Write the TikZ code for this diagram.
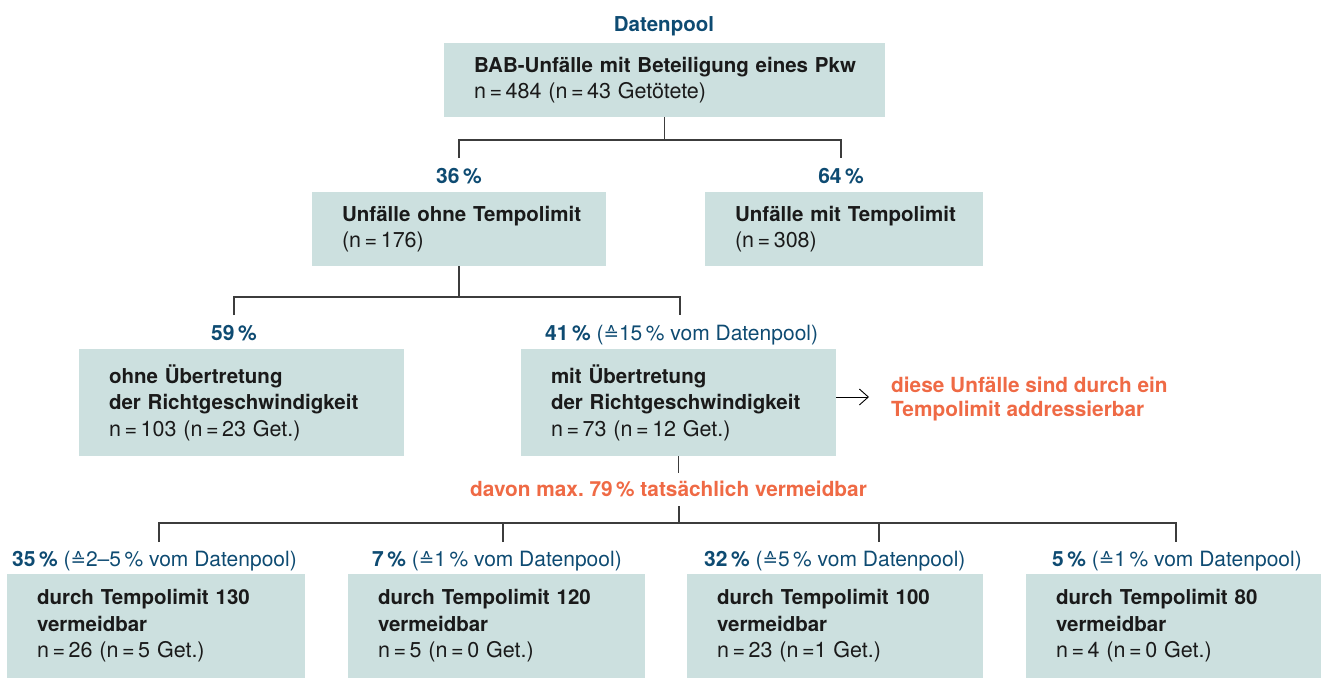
\documentclass[tikz,border=0pt]{standalone}
\usepackage{fontspec}
\setmainfont{TeX Gyre Heros}
\newfontfamily\symf{DejaVu Sans}
\usetikzlibrary{arrows.meta,calc}
\definecolor{boxc}{HTML}{CCE0DF}
\definecolor{blu}{HTML}{0E4B72}
\definecolor{orn}{HTML}{EF6A45}
\definecolor{txt}{HTML}{1A1A1A}
\definecolor{lin}{HTML}{3C3C3C}
\newcommand\fs{\fontsize{20.5}{26.5}\selectfont}
\newcommand\rg[1]{{\fontsize{21.5}{26.5}\selectfont #1}}
\newcommand\Zl[1]{\mbox{#1}}
\newcommand\eqs{\,=\,}
\newcommand\corr{{\symf\fontsize{18.5}{20}\selectfont ≙}}
\begin{document}
\begin{tikzpicture}[x=1pt,y=-1pt,
  box/.style={fill=boxc, anchor=north west, inner xsep=30pt, inner ysep=0pt, outer sep=0pt, align=left, font=\fs, text=txt},
  conn/.style={draw=lin, line width=1.1pt},
  pct/.style={font=\fontsize{21}{26}\selectfont, text=blu, inner sep=0pt},
  note/.style={font=\fontsize{20.8}{23.5}\selectfont\bfseries, text=orn, inner sep=0pt},
  arr/.style={draw=black, line width=0.9pt, -{Straight Barb[length=9pt,width=16pt]}}
]
\useasboundingbox (0,0) rectangle (1321,678);

% title
\node[pct, font=\fs\bfseries, anchor=base] (dp) at (664,31) {Datenpool};

% boxes
\node[box, minimum width=441pt, text width=381pt, minimum height=74pt] (b1) at (444,43)
  {\Zl{\textbf{BAB-Unfälle mit Beteiligung eines Pkw}}\\\Zl{\rg{n\eqs484 (n\eqs43 Getötete)}}};
\node[box, minimum width=294pt, text width=234pt, minimum height=74pt] (b2) at (312,192)
  {\Zl{\textbf{Unfälle ohne Tempolimit}}\\\Zl{\rg{(n\eqs176)}}};
\node[box, minimum width=278pt, text width=218pt, minimum height=74pt] (b3) at (705,192)
  {\Zl{\textbf{Unfälle mit Tempolimit}}\\\Zl{\rg{(n\eqs308)}}};
\node[box, minimum width=325pt, text width=265pt, minimum height=107pt] (b4) at (79,349)
  {\Zl{\textbf{ohne Übertretung}}\\\Zl{\textbf{der Richtgeschwindigkeit}}\\\Zl{\rg{n\eqs103 (n\eqs23 Get.)}}};
\node[box, minimum width=315pt, text width=255pt, minimum height=107pt] (b5) at (521,349)
  {\Zl{\textbf{mit Übertretung}}\\\Zl{\textbf{der Richtgeschwindigkeit}}\\\Zl{\rg{n\eqs73 (n\eqs12 Get.)}}};
\node[box, minimum width=298pt, text width=238pt, minimum height=104pt] (ba) at (7,574)
  {\Zl{\textbf{durch Tempolimit 130}}\\\Zl{\textbf{vermeidbar}}\\\Zl{\rg{n\eqs26 (n\eqs5 Get.)}}};
\node[box, minimum width=297pt, text width=237pt, minimum height=104pt] (bb) at (348,574)
  {\Zl{\textbf{durch Tempolimit 120}}\\\Zl{\textbf{vermeidbar}}\\\Zl{\rg{n\eqs5 (n\eqs0 Get.)}}};
\node[box, minimum width=296pt, text width=236pt, minimum height=104pt] (bc) at (687,574)
  {\Zl{\textbf{durch Tempolimit 100}}\\\Zl{\textbf{vermeidbar}}\\\Zl{\rg{n\eqs23 (n\,=1 Get.)}}};
\node[box, minimum width=295pt, text width=235pt, minimum height=104pt] (bd) at (1026,574)
  {\Zl{\textbf{durch Tempolimit 80}}\\\Zl{\textbf{vermeidbar}}\\\Zl{\rg{n\eqs4 (n\eqs0 Get.)}}};

% percentage labels
\node[pct, anchor=base] (p36) at (459,183) {\textbf{36\,\%}};
\node[pct, anchor=base] (p64) at (841,183) {\textbf{64\,\%}};
\node[pct, anchor=base] (p59) at (234,340) {\textbf{59\,\%}};
\node[pct, anchor=base west] (p41) at (545,340) {\textbf{41\,\%} (\corr15\,\% vom Datenpool)};
\node[pct, anchor=base west] (pa) at (12,566) {\textbf{35\,\%} (\corr2–5\,\% vom Datenpool)};
\node[pct, anchor=base west] (pb) at (372,566) {\textbf{7\,\%} (\corr1\,\% vom Datenpool)};
\node[pct, anchor=base west] (pc) at (704,566) {\textbf{32\,\%} (\corr5\,\% vom Datenpool)};
\node[pct, anchor=base west] (pd) at (1052,566) {\textbf{5\,\%} (\corr1\,\% vom Datenpool)};

% orange notes
\node[note, anchor=base west] (dav) at (470,496) {davon max.\ 79\,\% tatsächlich vermeidbar};
\node[note, anchor=west, align=left] (addr) at (891,399) {diese Unfälle sind durch ein\\Tempolimit addressierbar};
\draw[arr, shorten >=22pt] ([yshift=5.5pt]b5.east) -- ([yshift=5.5pt]b5.east -| addr.west);

% connectors level 1
\draw[conn] (b1.south) -- ++(0,23) coordinate (j1);
\coordinate (t36) at (459,158);
\coordinate (t64) at (841,158);
\draw[conn] (t36) |- (j1) -| (t64);

% level 2
\draw[conn] (b2.south) -- ++(0,31) coordinate (j2);
\coordinate (t59) at (234,315);
\coordinate (t41) at (680,315);
\draw[conn] (t59) |- (j2) -| (t41);

% level 3
\draw[conn] (b5.south) -- ++(0,17);
\coordinate (k3) at (679,506);
\coordinate (j3) at (679,523);
\draw[conn] (k3) -- (j3);
\coordinate (ta) at (159,542);
\coordinate (tb) at (503,542);
\coordinate (tc) at (879,542);
\coordinate (td) at (1176,542);
\draw[conn] (ta) |- (j3) -| (td);
\draw[conn] (tb) -- (tb |- j3);
\draw[conn] (tc) -- (tc |- j3);
\end{tikzpicture}
\end{document}
